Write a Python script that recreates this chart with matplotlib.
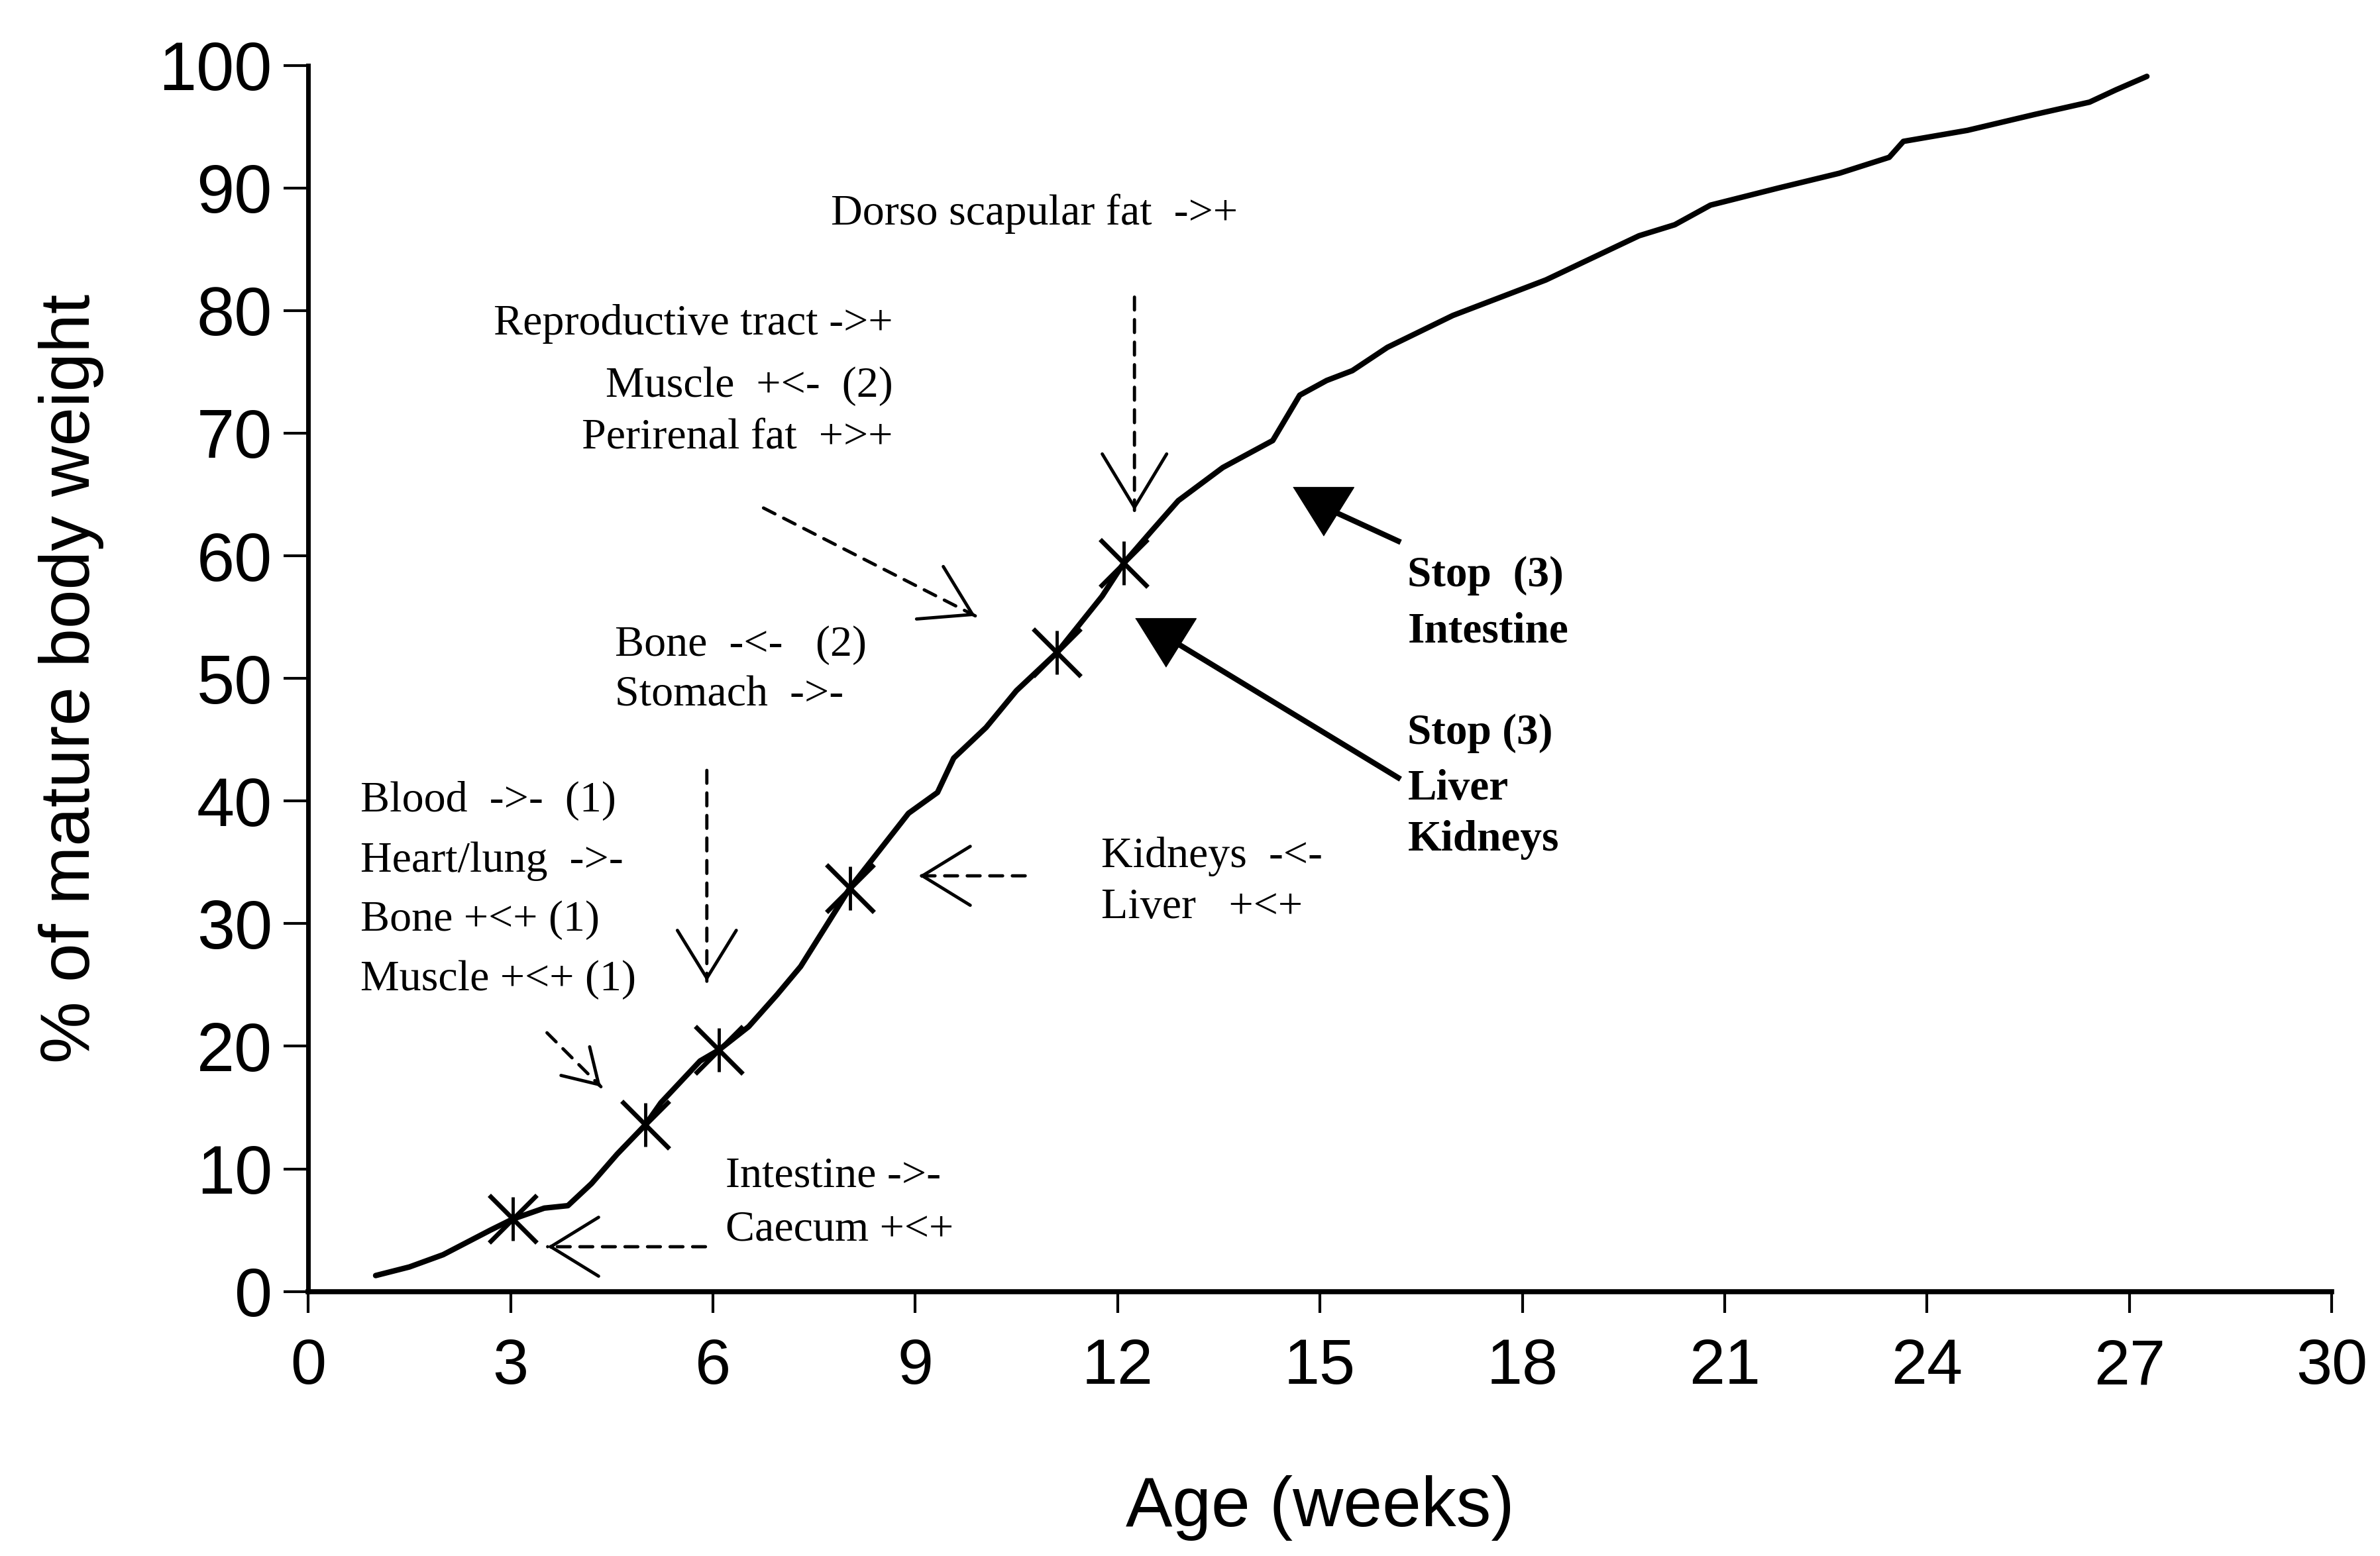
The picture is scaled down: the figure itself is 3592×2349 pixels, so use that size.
import numpy as np
import matplotlib
matplotlib.use("Agg")
import matplotlib.pyplot as plt

# growth curve
age = [1.0, 1.5, 2.0, 2.7, 3.03, 3.5, 3.85, 4.2, 4.58, 5.0, 5.23, 5.81, 6.09, 6.53,
       6.95, 7.3, 7.7, 8.03, 8.43, 8.9, 9.33, 9.57, 10.05, 10.5, 11.1, 11.77, 12.09,
       12.5, 12.9, 13.56, 14.3, 14.7, 15.1, 15.48, 16.0, 16.97, 18.35, 19.73, 20.26,
       20.79, 21.8, 22.7, 23.44, 23.65, 24.6, 25.6, 26.41, 26.8, 27.26]
weight = [1.3, 2.0, 3.0, 5.0, 5.9, 6.8, 7.0, 8.8, 11.2, 13.6, 15.4, 18.8, 19.7, 21.6,
          24.2, 26.5, 30.0, 32.9, 35.7, 39.0, 40.7, 43.5, 46.0, 49.0, 52.1, 56.7, 59.4,
          62.0, 64.5, 67.2, 69.4, 73.1, 74.3, 75.1, 77.0, 79.6, 82.5, 86.1, 87.0,
          88.6, 90.0, 91.2, 92.5, 93.8, 94.7, 96.0, 97.0, 98.0, 99.1]

# crosses on the curve
mark_age = [3.03, 5.0, 6.09, 8.03, 11.1, 12.09]
mark_weight = [5.9, 13.6, 19.7, 32.9, 52.1, 59.4]

# "stop" triangles
stop_age = [15.05, 12.71]
stop_weight = [63.6, 52.9]

xticks = list(range(0, 31, 3))
yticks = list(range(0, 101, 10))

serif = "Liberation Serif"
sans = "Liberation Sans"

fig = plt.figure(figsize=(35.92, 23.49), dpi=100)
ax = fig.add_axes([0.1295, 0.170, 0.8502, 0.788])

ax.plot(age, weight, color="k", lw=6, solid_capstyle="round", solid_joinstyle="round")
ax.plot(mark_age, mark_weight, ls="none", marker="x", ms=52, mew=5, color="k")
ax.plot(mark_age, mark_weight, ls="none", marker="|", ms=48, mew=3.5, color="k")

tri = [(-1, 0.8), (1, 0.8), (0, -0.8)]
ax.plot(stop_age, stop_weight, ls="none", marker=tri, ms=66, color="k")

ax.set_xlim(0, 30)
ax.set_ylim(0, 100)
ax.set_xticks(xticks)
ax.set_yticks(yticks)
ax.spines["top"].set_visible(False)
ax.spines["right"].set_visible(False)
ax.spines["left"].set_linewidth(5)
ax.spines["bottom"].set_linewidth(5.5)
ax.tick_params(axis="y", length=27, width=3, pad=12, labelsize=74)
ax.tick_params(axis="x", length=23, width=3, pad=27, labelsize=70)
for lab in ax.get_xticklabels() + ax.get_yticklabels():
    lab.set_family(sans)

ax.set_xlabel("Age (weeks)", fontsize=76, family=sans)
ax.set_ylabel("% of mature body weight", fontsize=76, family=sans)
ax.xaxis.set_label_coords(0.5, -0.150)
ax.yaxis.set_label_coords(-0.101, 0.5)


def note(x, y, s, ha="left", bold=False):
    ax.text(x, y, s, ha=ha, va="center", fontsize=47 if bold else 47.5,
            family=serif, fontweight="bold" if bold else "normal")


def dashed_arrow(x0, y0, x1, y1, hl=2.6, hw=1.6):
    ax.annotate("", xy=(x1, y1), xytext=(x0, y0),
                arrowprops=dict(arrowstyle="-", ls=(0, (4, 3)), lw=3.5, color="k",
                                shrinkA=0, shrinkB=0))
    ax.annotate("", xy=(x1, y1),
                xytext=(x1 - (x1 - x0) * 0.03, y1 - (y1 - y0) * 0.03),
                arrowprops=dict(arrowstyle=f"->,head_length={hl},head_width={hw}",
                                lw=3.5, color="k", shrinkA=0, shrinkB=0,
                                mutation_scale=20))


note(7.75, 87.9, "Dorso scapular fat  ->+")
note(8.67, 78.9, "Reproductive tract ->+", ha="right")
note(8.67, 73.8, "Muscle  +<-  (2)", ha="right")
note(8.67, 69.6, "Perirenal fat  +>+", ha="right")
note(4.55, 52.7, "Bone  -<-   (2)")
note(4.55, 48.6, "Stomach  ->-")
note(0.77, 40.0, "Blood  ->-  (1)")
note(0.77, 35.1, "Heart/lung  ->-")
note(0.77, 30.3, "Bone +<+ (1)")
note(0.77, 25.4, "Muscle +<+ (1)")
note(11.76, 35.5, "Kidneys  -<-")
note(11.76, 31.3, "Liver   +<+")
note(6.19, 9.4, "Intestine ->-")
note(6.19, 5.0, "Caecum +<+")

note(16.3, 58.4, "Stop  (3)", bold=True)
note(16.3, 53.8, "Intestine", bold=True)
note(16.3, 45.5, "Stop (3)", bold=True)
note(16.3, 41.0, "Liver", bold=True)
note(16.3, 36.8, "Kidneys", bold=True)

dashed_arrow(12.25, 81.1, 12.25, 63.7, hl=2.9, hw=1.75)
dashed_arrow(6.75, 63.9, 9.89, 55.1)
dashed_arrow(5.91, 42.5, 5.91, 25.3)
dashed_arrow(3.54, 21.1, 4.34, 16.7, hl=1.8, hw=1.1)
dashed_arrow(10.63, 33.9, 9.06, 33.9)
dashed_arrow(5.89, 3.65, 3.55, 3.65)

# solid lines from the bold notes to the triangles
ax.plot([16.16, 15.13], [61.2, 63.8], color="k", lw=6)
ax.plot([16.16, 12.87], [41.9, 52.9], color="k", lw=6)

fig.savefig("out.png", dpi=100)
